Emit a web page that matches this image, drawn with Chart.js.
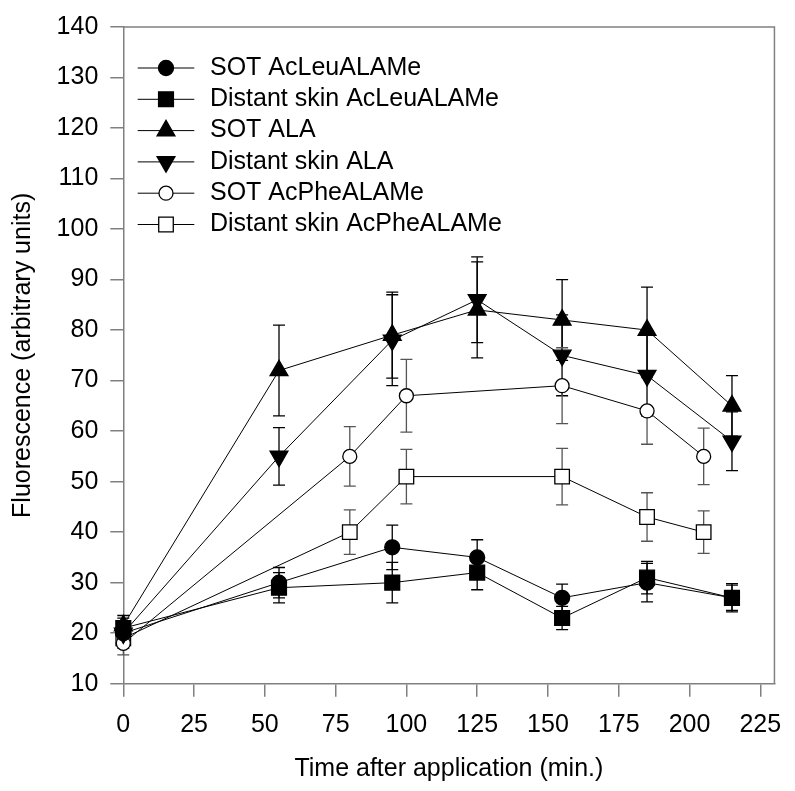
<!DOCTYPE html>
<html>
<head>
<meta charset="utf-8">
<script src="https://cdn.jsdelivr.net/npm/chart.js@4"></script>
<style>
  html, body { margin: 0; padding: 0; background: #fff; }
  #wrap { width: 795px; height: 791px; }
</style>
</head>
<body>
<div id="wrap"><canvas id="chart" width="795" height="791"></canvas></div>
<script>
    // time points (min.)
    var timesLeuAla = [0, 55, 95, 125, 155, 185, 215];
    var timesPhe = [0, 80, 100, 155, 185, 205];

    // fluorescence values + error
    var sotLeu = [20, 30, 37, 35, 27, 30, 27];
    var sotLeuErr = [2, 3, 4.4, 3.5, 2.7, 3.8, 2.8];
    var distLeu = [21, 29, 30, 32, 23, 31, 27];
    var distLeuErr = [2, 3, 4, 3.4, 2.3, 3.2, 2.5];
    var sotAla = [21.5, 72, 79, 84, 82, 80, 65];
    var sotAlaErr = [2, 9, 8.5, 9.5, 8, 8.5, 6];
    var distAla = [20, 55, 78, 86, 75, 71, 58];
    var distAlaErr = [2, 5.7, 9, 8.5, 8, 8, 5.8];
    var sotPhe = [18, 55, 67, 69, 64, 55];
    var sotPheErr = [2.3, 5.9, 7.2, 7.5, 6.6, 5.6];
    var distPhe = [19, 40, 51, 51, 43, 40];
    var distPheErr = [2, 4.4, 5.4, 5.6, 4.8, 4.2];

    var seriesNames = ["SOT AcLeuALAMe", "Distant skin AcLeuALAMe", "SOT ALA",
        "Distant skin ALA", "SOT AcPheALAMe", "Distant skin AcPheALAMe"];

    var xTicks = [0, 25, 50, 75, 100, 125, 150, 175, 200, 225];
    var yTicks = [10, 20, 30, 40, 50, 60, 70, 80, 90, 100, 110, 120, 130, 140];

    var axisGray = '#808080';
    Chart.defaults.font.family = "'Liberation Sans', Arial, sans-serif";
    Chart.defaults.font.size = 25;
    Chart.defaults.color = '#000';

    function pts(xs, ys) {
        return xs.map(function (x, i) { return { x: x, y: ys[i] }; });
    }

    function makeSet(label, xs, ys, errs, style, radius, rot, filled) {
        return {
            label: label,
            data: pts(xs, ys),
            errors: errs,
            errColor: filled ? '#000' : '#555',
            borderColor: '#000',
            borderWidth: 1,
            tension: 0,
            fill: false,
            clip: false,
            pointStyle: style,
            pointRadius: radius,
            pointRotation: rot,
            pointBorderColor: '#000',
            pointBorderWidth: 1.3,
            pointBackgroundColor: filled ? '#000' : '#fff'
        };
    }

    var datasets = [
        makeSet(seriesNames[0], timesLeuAla, sotLeu, sotLeuErr, 'circle', 7.5, 0, true),
        makeSet(seriesNames[1], timesLeuAla, distLeu, distLeuErr, 'rect', 10.5, 0, true),
        makeSet(seriesNames[2], timesLeuAla, sotAla, sotAlaErr, 'triangle', 10.3, 0, true),
        makeSet(seriesNames[3], timesLeuAla, distAla, distAlaErr, 'triangle', 10.3, 180, true),
        makeSet(seriesNames[4], timesPhe, sotPhe, sotPheErr, 'circle', 7, 0, false),
        makeSet(seriesNames[5], timesPhe, distPhe, distPheErr, 'rect', 10.3, 0, false)
    ];

    // error bars, drawn before the markers
    var errorBars = {
        id: 'errorBars',
        beforeDatasetsDraw: function (chart) {
            var ctx = chart.ctx, xs = chart.scales.x, ys = chart.scales.y;
            ctx.save();
            chart.data.datasets.forEach(function (ds) {
                ctx.strokeStyle = ds.errColor;
                ctx.lineWidth = 1.3;
                ds.data.forEach(function (p, j) {
                    var e = ds.errors[j];
                    var px = xs.getPixelForValue(p.x);
                    var top = ys.getPixelForValue(p.y + e);
                    var bot = ys.getPixelForValue(p.y - e);
                    ctx.beginPath();
                    ctx.moveTo(px, top); ctx.lineTo(px, bot);
                    ctx.moveTo(px - 6, top); ctx.lineTo(px + 6, top);
                    ctx.moveTo(px - 6, bot); ctx.lineTo(px + 6, bot);
                    ctx.stroke();
                });
            });
            ctx.restore();
        }
    };

    // top + right edges of the frame
    var frame = {
        id: 'frame',
        beforeDatasetsDraw: function (chart) {
            var a = chart.chartArea, ctx = chart.ctx;
            ctx.save();
            ctx.strokeStyle = axisGray;
            ctx.lineWidth = 1.5;
            ctx.beginPath();
            ctx.moveTo(a.left, a.top); ctx.lineTo(a.right, a.top); ctx.lineTo(a.right, a.bottom);
            ctx.stroke();
            ctx.restore();
        }
    };

    // legend inside the plot: line + marker + text
    var insideLegend = {
        id: 'insideLegend',
        afterDatasetsDraw: function (chart) {
            var a = chart.chartArea, ctx = chart.ctx;
            ctx.save();
            chart.data.datasets.forEach(function (ds, i) {
                var y = a.top + 41 + i * 31.3;
                ctx.strokeStyle = '#000';
                ctx.lineWidth = 1;
                ctx.beginPath();
                ctx.moveTo(a.left + 14.4, y); ctx.lineTo(a.left + 71, y);
                ctx.stroke();
                ctx.fillStyle = ds.pointBackgroundColor;
                ctx.strokeStyle = '#000';
                ctx.lineWidth = ds.pointBorderWidth;
                Chart.helpers.drawPoint(ctx, {
                    pointStyle: ds.pointStyle, radius: ds.pointRadius,
                    rotation: ds.pointRotation, borderWidth: ds.pointBorderWidth
                }, a.left + 42.7, y);
                ctx.fillStyle = '#000';
                ctx.font = "25px 'Liberation Sans', Arial, sans-serif";
                ctx.textAlign = 'left';
                ctx.textBaseline = 'middle';
                ctx.fillText(ds.label, a.left + 86.7, y);
            });
            ctx.restore();
        }
    };

    new Chart("chart", {
        type: "line",
        data: { datasets: datasets },
        plugins: [frame, errorBars, insideLegend],
        options: {
            responsive: false,
            animation: false,
            events: [],
            layout: { padding: { top: 20.7, right: 12, left: 0, bottom: 0 } },
            plugins: {
                legend: { display: false },
                tooltip: { enabled: false }
            },
            scales: {
                x: {
                    type: 'linear',
                    min: 0,
                    max: 230,
                    afterBuildTicks: function (s) { s.ticks = xTicks.map(function (v) { return { value: v }; }); },
                    afterFit: function (s) { s.height = 107.3; },
                    grid: { drawOnChartArea: false, drawTicks: true, tickLength: 13, color: axisGray, lineWidth: 1.5 },
                    border: { display: true, color: axisGray, width: 1.5 },
                    ticks: { padding: 13.6, maxRotation: 0, autoSkip: false, color: '#000' },
                    title: { display: true, text: 'Time after application (min.)', padding: { top: 0, bottom: 7 }, color: '#000' }
                },
                y: {
                    min: 10,
                    max: 140,
                    afterBuildTicks: function (s) { s.ticks = yTicks.map(function (v) { return { value: v }; }); },
                    afterFit: function (s) { s.width = 123.3; },
                    grid: { drawOnChartArea: false, drawTicks: true, tickLength: 13, color: axisGray, lineWidth: 1.5 },
                    border: { display: true, color: axisGray, width: 1.5 },
                    ticks: { padding: 12, autoSkip: false, color: '#000' },
                    title: { display: true, text: 'Fluorescence (arbitrary units)', padding: { top: 8, bottom: 0 }, color: '#000' }
                }
            }
        }
    });
</script>
</body>
</html>
